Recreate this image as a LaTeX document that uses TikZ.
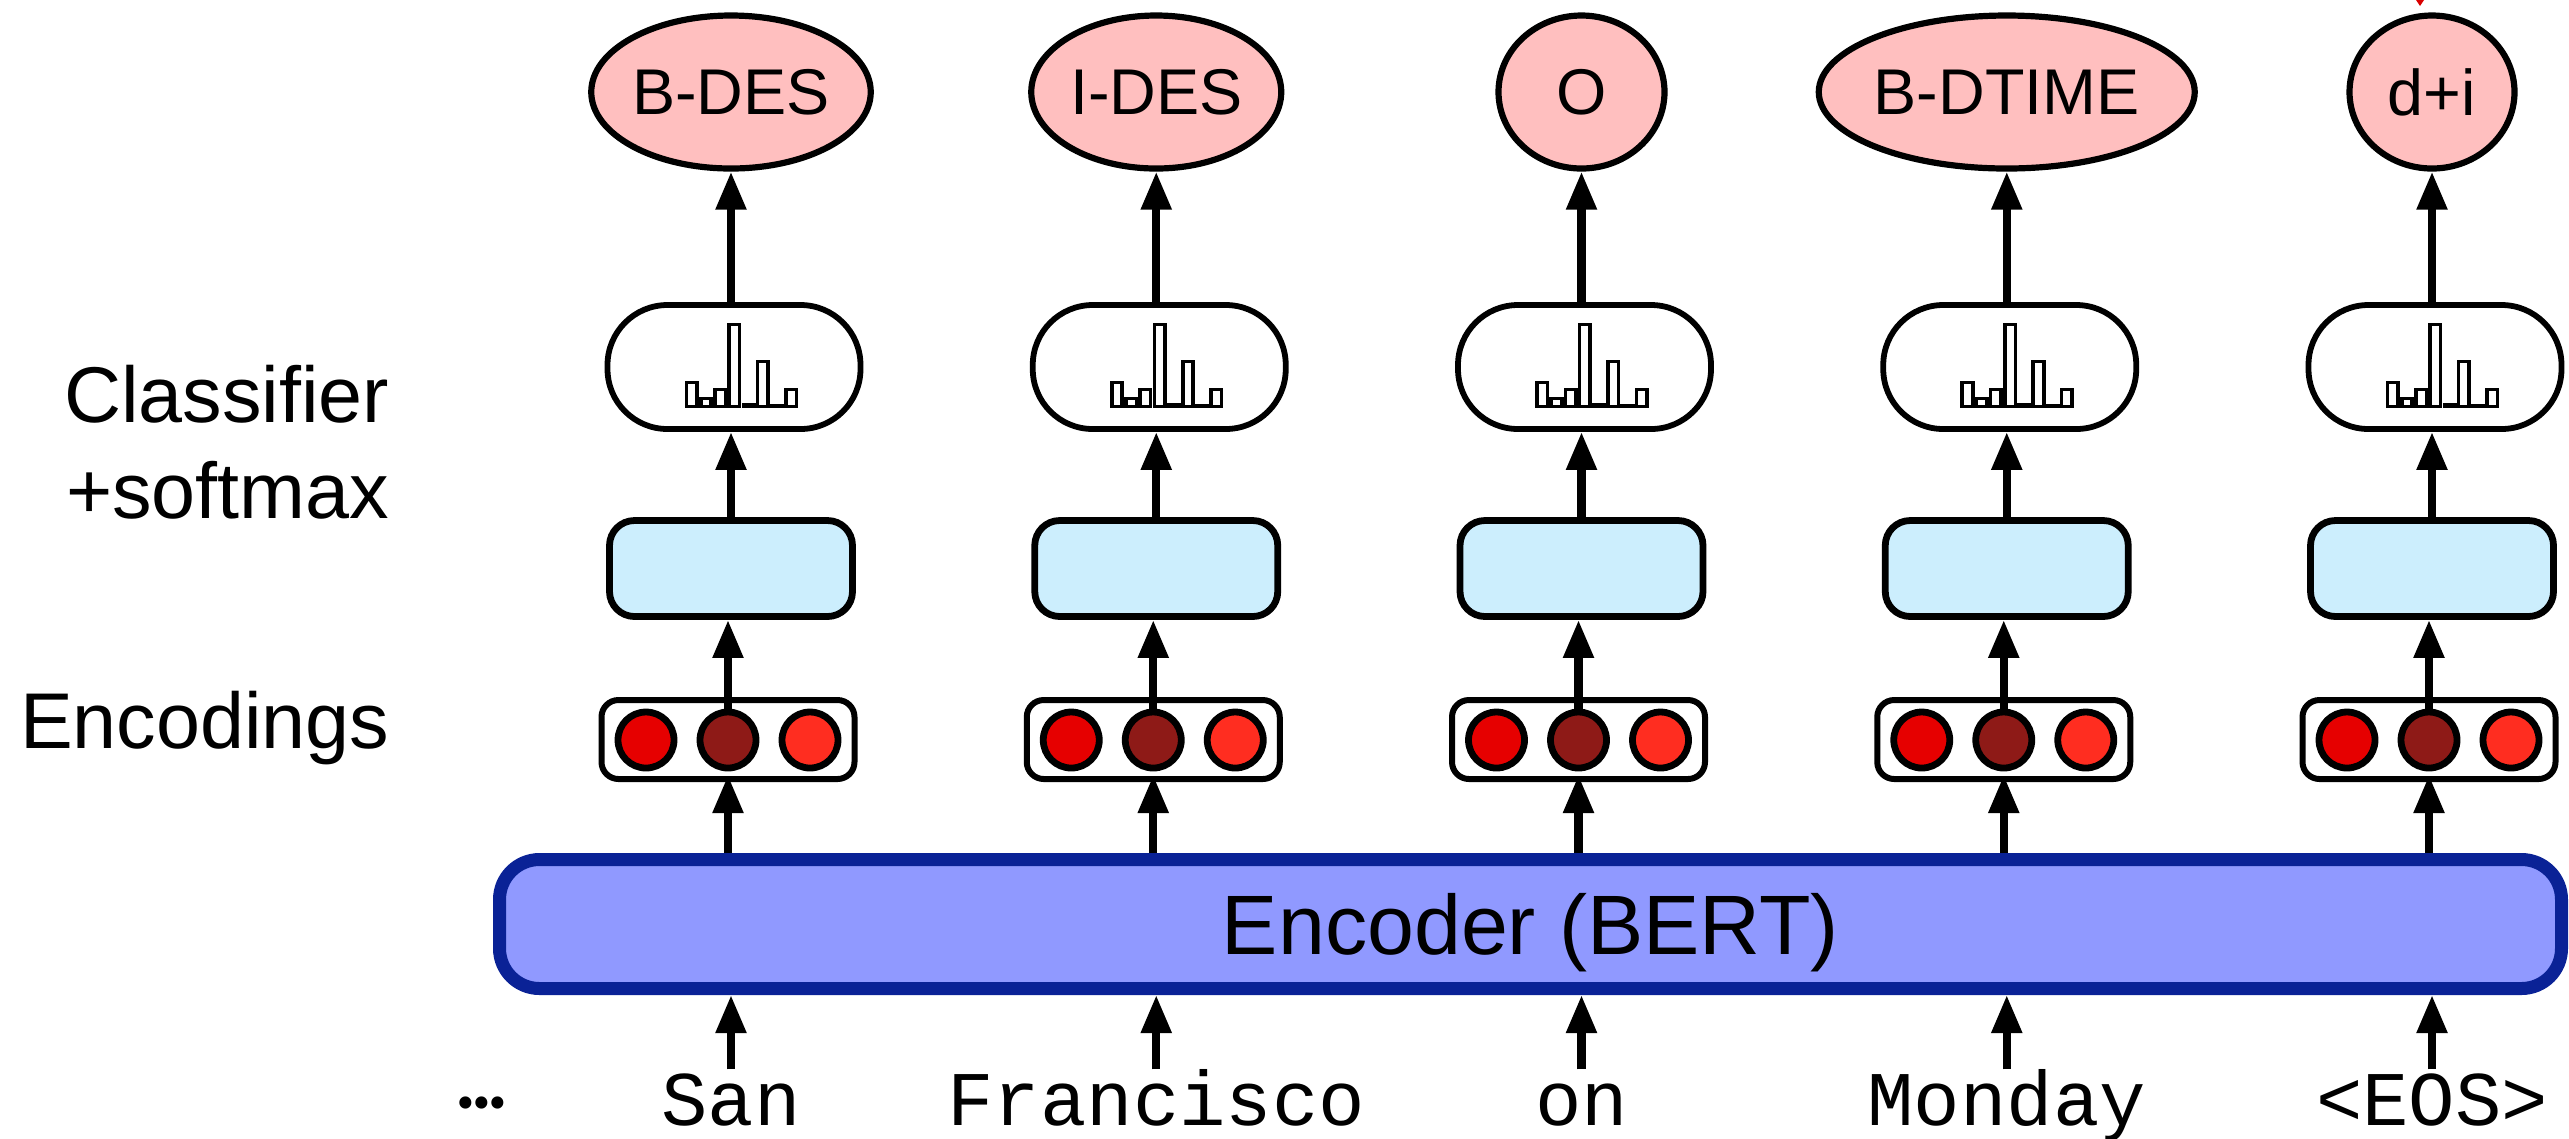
\documentclass[tikz,border=0pt]{standalone}
\usepackage{fontspec}
\setmainfont{Liberation Sans}
\newfontfamily\monofont{Liberation Mono}
\newfontfamily\dotfont{Poppins}
\usetikzlibrary{shapes.geometric,arrows.meta}
\definecolor{labpink}{HTML}{FFBFBF}
\definecolor{clsblue}{HTML}{CCEEFD}
\definecolor{encfill}{HTML}{9099FF}
\definecolor{encline}{HTML}{0A2296}
\definecolor{dotA}{HTML}{E60000}
\definecolor{dotB}{HTML}{8E1A17}
\definecolor{dotC}{HTML}{FF2D20}
\begin{document}
\begin{tikzpicture}[x=0.1mm,y=-0.1mm,
  lab/.style={ellipse, draw, line width=0.62mm, fill=labpink, inner sep=0pt,
    minimum height=15.3mm, font=\fontsize{18.4}{20}\selectfont},
  pill/.style={rectangle, rounded corners=6mm, draw, line width=0.58mm,
    fill=white, minimum width=25.3mm, minimum height=12.4mm, inner sep=0pt},
  clsbox/.style={rectangle, rounded corners=2.5mm, draw, line width=0.68mm,
    fill=clsblue, minimum width=24.3mm, minimum height=9.6mm, inner sep=0pt},
  encbox/.style={rectangle, rounded corners=1.7mm, draw, line width=0.6mm,
    minimum width=25.3mm, minimum height=7.9mm, inner sep=0pt},
  encdot/.style={circle, draw, line width=0.68mm, minimum size=5.6mm, inner sep=0pt},
  tok/.style={anchor=base, inner sep=0.9mm, text height=4.6mm, text depth=1mm,
    font=\monofont\fontsize{22}{24}\selectfont},
  side/.style={anchor=base east, inner sep=0pt, align=right,
    font=\fontsize{22.5}{27.3}\selectfont},
  arr/.style={line width=0.82mm, -{Triangle[length=3.8mm,width=2.9mm]}},
  bar/.style={line width=0.36mm, fill=white}]
\useasboundingbox (0,0) rectangle (2569,1138);

% encoder
\node[rectangle, rounded corners=4mm, draw=encline, line width=1.3mm, fill=encfill,
  minimum width=206.2mm, minimum height=12.9mm, inner sep=0pt, text depth=0pt,
  font=\fontsize{24}{26}\selectfont] (enc) at (1530.5,924) {Encoder (BERT)};

% side labels
\node[side] (lcls) at (390,518) {Classifier\\+softmax};
\node[side] (lenc) at (390,748) {Encodings};

% ellipsis
\node[inner sep=0pt, anchor=base, font=\dotfont\fontsize{28}{30}\selectfont] (dots) at (482,1108)
  {.\kern-0.05em.\kern-0.05em.};

\foreach \i/\t/\w/\tk in {0/B-DES/25.0/San, 1/I-DES/25.0/Francisco, 2/O/16.6/on,
    3/B-DTIME/36.9/Monday, 4/d+i/16.5/<EOS>}{
  \pgfmathsetmacro{\cx}{731+425.25*\i}
  \node[lab, minimum width=\w mm] (l\i) at (\cx,92) {\t};
  \node[pill] (p\i) at (\cx+3,367) {};
  \foreach \k/\h in {0/27,1/11,2/20,3/85,4/4.5,5/48,6/4,7/20}{
    \pgfmathsetmacro{\bl}{\cx-44.5+14.2*\k}
    \draw[bar] (\bl,406.5) rectangle (\bl+10.5,409.5-\h);
  }
  \node[clsbox] (b\i) at (\cx,568.5) {};
  \node[encbox] (e\i) at (\cx-3,739.5) {};
  \node[encdot, fill=dotA] (da\i) at (\cx-85,740) {};
  \node[encdot, fill=dotB] (db\i) at (\cx-3,740) {};
  \node[encdot, fill=dotC] (dc\i) at (\cx+79,740) {};
  \node[tok] (t\i) at (\cx,1125) {\tk};
  % connectors
  \draw[arr] (t\i.north) -- (t\i.north |- enc.south);
  \draw[arr] (enc.north -| db\i) -- ([yshift=0.7mm]e\i.south -| db\i);
  \draw[arr] (db\i.north) -- (b\i.south -| db\i);
  \draw[arr] (b\i.north) -- (p\i.south -| b\i);
  \draw[arr] (p\i.north -| b\i) -- (l\i.south -| b\i);
}

% cropped red arrow tip at the top edge
\fill[red!85!black] (2416,0) -- (2424,0) -- (2420,6) -- cycle;
\end{tikzpicture}
\end{document}
